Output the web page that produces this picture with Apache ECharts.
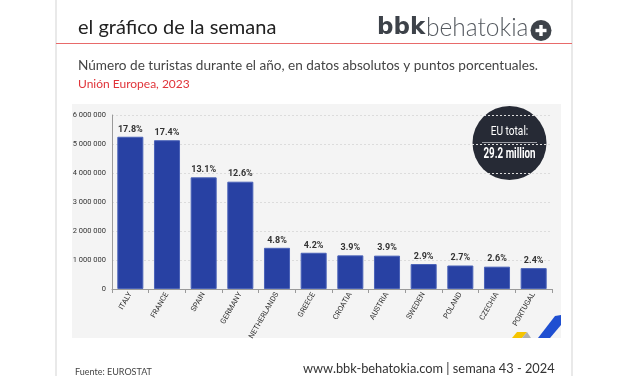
<!DOCTYPE html>
<html lang="es">
<head>
<meta charset="UTF-8">
<title>el gráfico de la semana</title>
<style>
  * { margin: 0; padding: 0; }
  body { background: #fff; overflow: hidden; }
  #chart { width: 627px; height: 376px; }
</style>
</head>
<body>
<div id="chart"></div>
<script src="https://cdn.jsdelivr.net/npm/echarts@6/dist/echarts.min.js"></script>
<script>
  // datos
  const countries = ['ITALY', 'FRANCE', 'SPAIN', 'GERMANY', 'NETHERLANDS', 'GREECE',
    'CROATIA', 'AUSTRIA', 'SWEDEN', 'POLAND', 'CZECHIA', 'PORTUGAL'];
  const tourists = [5250000, 5130000, 3850000, 3700000, 1420000, 1250000,
    1160000, 1150000, 860000, 810000, 770000, 720000];
  const shares = ['17.8%', '17.4%', '13.1%', '12.6%', '4.8%', '4.2%',
    '3.9%', '3.9%', '2.9%', '2.7%', '2.6%', '2.4%'];

  const narrow = "Roboto, sans-serif";
  const head = "Lato, 'Open Sans', sans-serif";

  const chart = echarts.init(document.getElementById('chart'));
  chart.setOption({
    animation: false,
    backgroundColor: '#fff',
    grid: { left: 112, right: 75, top: 115, bottom: 87 },
    xAxis: {
      type: 'category',
      data: countries,
      axisLine: { lineStyle: { color: '#9a9a9a' } },
      axisTick: { show: true, lineStyle: { color: '#9a9a9a' }, length: 4 },
      axisLabel: {
        rotate: 60, fontSize: 7.5, margin: 4, color: '#333',
        fontFamily: narrow, interval: 0
      }
    },
    yAxis: {
      type: 'value',
      min: 0, max: 6000000, interval: 1000000,
      axisLine: { show: true, lineStyle: { color: '#9a9a9a' } },
      axisTick: { show: false },
      splitLine: { lineStyle: { color: '#dcdcdc', type: [2, 2] } },
      axisLabel: {
        fontSize: 7.5, margin: 6, color: '#333', fontFamily: narrow,
        formatter: v => String(v).replace(/\B(?=(\d{3})+(?!\d))/g, ' ')
      }
    },
    series: [{
      type: 'bar',
      data: tourists,
      barWidth: '71%',
      itemStyle: { color: '#2841a3', borderColor: '#4a62b8', borderWidth: 1 },
      label: {
        show: true, position: 'top', distance: 3,
        fontSize: 9, fontWeight: 'bold', color: '#333', fontFamily: narrow,
        formatter: p => shares[p.dataIndex]
      }
    }],
    graphic: [
      // bordes de la tarjeta
      { type: 'line', z: -20, shape: { x1: 56, y1: 0, x2: 56, y2: 376 }, style: { stroke: '#e2e2e2', lineWidth: 1.5 } },
      { type: 'line', z: -20, shape: { x1: 572, y1: 0, x2: 572, y2: 376 }, style: { stroke: '#e2e2e2', lineWidth: 1.5 } },
      { type: 'line', shape: { x1: 56, y1: 43.5, x2: 572, y2: 43.5 }, style: { stroke: '#e86a6a', lineWidth: 1 } },
      // cabecera
      { type: 'text', left: 78, top: 18, style: { text: 'el gráfico de la semana', font: '20px ' + head, fill: '#222' } },
      { type: 'text', left: 377, top: 17, style: { text: 'bbk', font: 'bold 23px DejaVu Sans', fill: '#3d4249' } },
      { type: 'text', left: 426, top: 16, style: { text: 'behatokia', font: '300 24.5px ' + head, fill: '#555a60' } },
      { type: 'circle', shape: { cx: 541, cy: 30.5, r: 10.5 }, style: { fill: '#3d4249' } },
      { type: 'rect', shape: { x: 535.5, y: 28.8, width: 11, height: 3.4 }, style: { fill: '#fff' } },
      { type: 'rect', shape: { x: 539.3, y: 25, width: 3.4, height: 11 }, style: { fill: '#fff' } },
      { type: 'text', left: 78, top: 59, style: { text: 'Número de turistas durante el año, en datos absolutos y puntos porcentuales.', font: '13.6px ' + head, fill: '#444' } },
      { type: 'text', left: 78, top: 78, style: { text: 'Unión Europea, 2023', font: '12px ' + head, fill: '#e0343a' } },
      // panel gris
      { type: 'rect', z: -10, shape: { x: 72, y: 104, width: 489, height: 234 }, style: { fill: '#f4f4f4' } },
      // adornos
      { type: 'polygon', shape: { points: [[512, 338], [517, 332], [527, 332], [522, 338]] }, style: { fill: '#f5c400' } },
      { type: 'polygon', shape: { points: [[522, 338], [527, 332], [531, 338]] }, style: { fill: '#b0b0b0' } },
      { type: 'polygon', shape: { points: [[538, 338], [555, 316], [561, 315], [561, 325], [550, 338]] }, style: { fill: '#1f4fd1' } },
      // círculo total UE
      { type: 'circle', shape: { cx: 509.5, cy: 143, r: 37 }, style: { fill: '#262a35' } },
      { type: 'text', x: 509.5, y: 132, scaleX: 0.78, style: { text: 'EU total:', font: '13px ' + narrow, fill: '#fff', align: 'center', verticalAlign: 'middle' } },
      { type: 'line', shape: { x1: 482, y1: 142.5, x2: 537, y2: 142.5 }, style: { stroke: '#9a9ca3', lineWidth: 1 } },
      { type: 'text', x: 509.5, y: 154.5, scaleX: 0.7, style: { text: '29.2 million', font: 'bold 14px ' + narrow, fill: '#fff', align: 'center', verticalAlign: 'middle' } },
      // pie
      { type: 'text', left: 75, top: 368, style: { text: 'Fuente: EUROSTAT', font: '9px ' + head, fill: '#444' } },
      { type: 'text', left: 303, top: 362, style: { text: 'www.bbk-behatokia.com | semana 43 - 2024', font: '12.8px ' + head, fill: '#333' } }
    ]
  });
</script>
</body>
</html>
